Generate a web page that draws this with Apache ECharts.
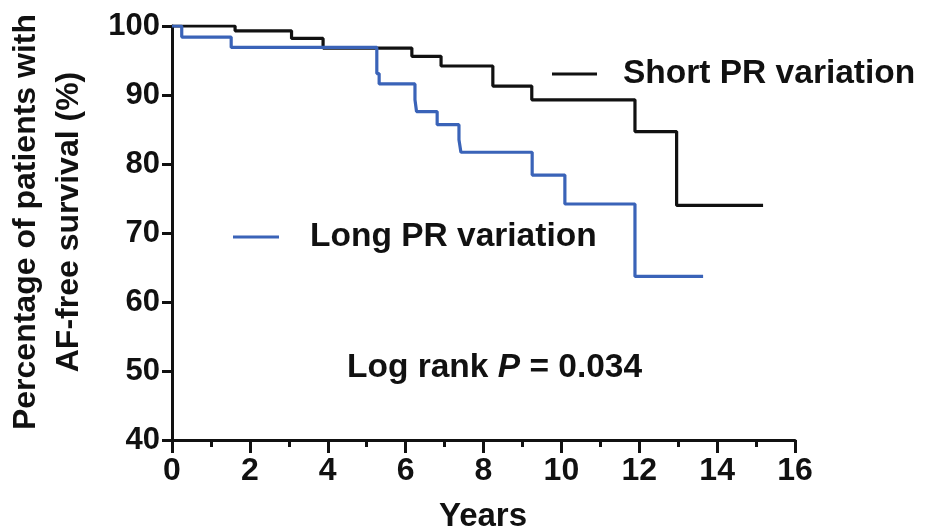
<!DOCTYPE html>
<html>
<head>
<meta charset="utf-8">
<script src="https://cdn.jsdelivr.net/npm/echarts@6/dist/echarts.min.js"></script>
<style>
  html, body { margin: 0; padding: 0; background: #fff; }
  #chart { width: 938px; height: 532px; }
</style>
</head>
<body>
<div id="chart"></div>
<script>
// Kaplan-Meier step curves: [years, % AF-free]
const shortPR = [
  [0, 100], [1.62, 99.3], [3.07, 98.2], [3.88, 96.8], [6.16, 95.6],
  [6.91, 94.2], [8.24, 91.3], [9.24, 89.3], [11.89, 84.7], [12.96, 74.0],
  [15.18, 74.0]
];
const longPR = [
  [0, 100], [0.25, 98.4], [1.52, 96.9], [5.26, 93.1], [5.32, 91.6],
  [6.24, 89.3], [6.28, 87.6], [6.81, 85.7], [7.37, 83.5], [7.42, 81.7],
  [9.25, 78.4], [10.09, 74.2], [11.89, 63.7], [13.64, 63.7]
];
const seriesNames = ['Short PR variation', 'Long PR variation'];
const seriesColors = ['#111111', '#3a63b8'];
const xTicks = [0, 16, 2];   // min, max, interval
const yTicks = [40, 100, 10];
const yTitleLines = ['Percentage of patients with', 'AF-free survival (%)'];
const xTitle = 'Years';

const FONT = '"Liberation Sans", Arial, Helvetica, sans-serif';

const chart = echarts.init(document.getElementById('chart'), null, { renderer: 'canvas' });

const baseText = { fontFamily: FONT, fontWeight: 'bold', color: '#111' };

chart.setOption({
  animation: false,
  backgroundColor: '#fff',
  grid: { left: 172, right: 143, top: 26, bottom: 92, containLabel: false },
  xAxis: {
    type: 'value',
    min: xTicks[0], max: xTicks[1], interval: xTicks[2],
    axisLine: { show: true, onZero: false, lineStyle: { color: '#111', width: 3 } },
    axisTick: { show: true, length: 13, lineStyle: { color: '#111', width: 3 } },
    minorTick: { show: true, splitNumber: 2, length: 7, lineStyle: { color: '#111', width: 3 } },
    splitLine: { show: false },
    axisLabel: Object.assign({ fontSize: 32, margin: 15 }, baseText)
  },
  yAxis: {
    type: 'value',
    min: yTicks[0], max: yTicks[1], interval: yTicks[2],
    axisLine: { show: true, onZero: false, lineStyle: { color: '#111', width: 3 } },
    axisTick: { show: true, length: 10, lineStyle: { color: '#111', width: 3 } },
    splitLine: { show: false },
    axisLabel: Object.assign({ fontSize: 31, margin: 12 }, baseText)
  },
  legend: [
    {
      data: [seriesNames[0]],
      left: 552, top: 57,
      icon: 'rect', itemWidth: 45, itemHeight: 3, padding: 0,
      textStyle: Object.assign({ fontSize: 33.5, padding: [0, 0, 0, 21] }, baseText)
    },
    {
      data: [seriesNames[1]],
      left: 233, top: 220,
      icon: 'rect', itemWidth: 46, itemHeight: 3, padding: 0,
      textStyle: Object.assign({ fontSize: 33.5, padding: [0, 0, 0, 26] }, baseText)
    }
  ],
  series: [
    {
      name: seriesNames[0], type: 'line', step: 'end', data: shortPR,
      showSymbol: false, symbol: 'none', z: 3,
      lineStyle: { color: seriesColors[0], width: 3.2 },
      itemStyle: { color: seriesColors[0] }
    },
    {
      name: seriesNames[1], type: 'line', step: 'end', data: longPR,
      showSymbol: false, symbol: 'none', z: 4,
      lineStyle: { color: seriesColors[1], width: 3.2 },
      itemStyle: { color: seriesColors[1] }
    }
  ],
  graphic: [
    {
      type: 'text', x: 48, y: 222, rotation: Math.PI / 2,
      style: {
        text: yTitleLines.join('\n'),
        font: 'bold 32px ' + FONT, fill: '#111',
        align: 'center', verticalAlign: 'middle', lineHeight: 43
      }
    },
    {
      type: 'text', x: 483, y: 517,
      style: {
        text: xTitle, font: 'bold 33px ' + FONT, fill: '#111',
        align: 'center', verticalAlign: 'middle'
      }
    },
    {
      type: 'text', x: 347, y: 368,
      style: {
        text: '{n|Log rank }{i|P}{n| = 0.034}',
        align: 'left', verticalAlign: 'middle',
        rich: {
          n: { fontFamily: FONT, fontWeight: 'bold', fontSize: 33.5, fill: '#111' },
          i: { fontFamily: FONT, fontWeight: 'bold', fontStyle: 'italic', fontSize: 33.5, fill: '#111' }
        }
      }
    }
  ]
});
</script>
</body>
</html>
